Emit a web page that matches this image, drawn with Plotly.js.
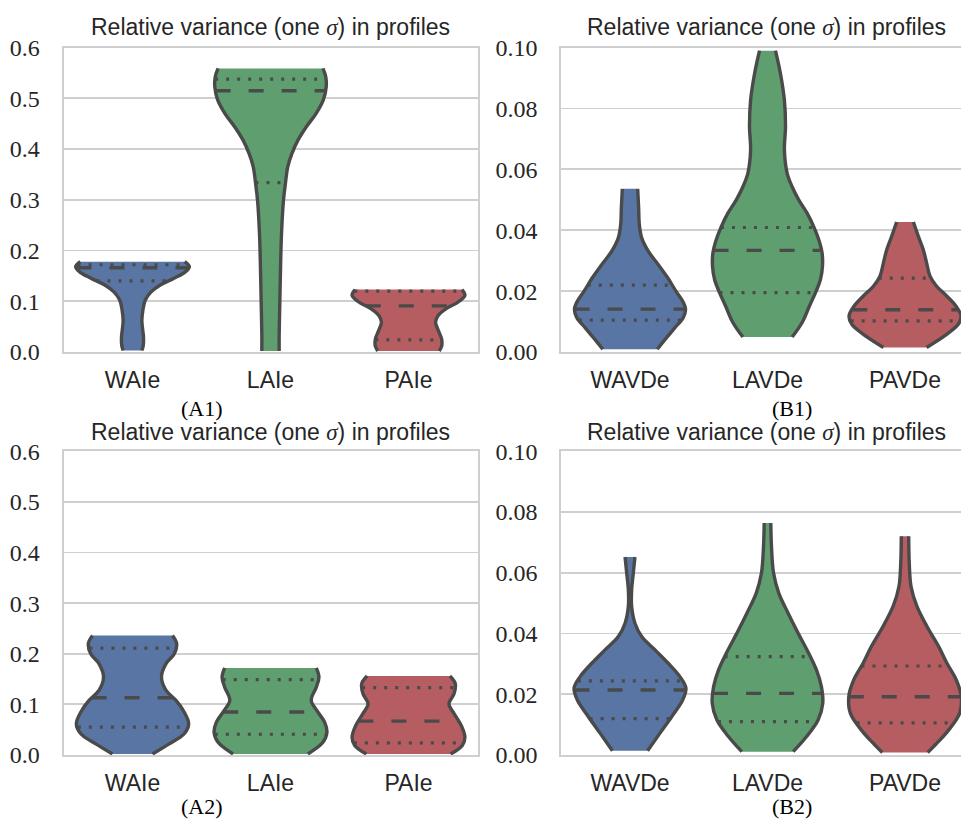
<!DOCTYPE html>
<html><head><meta charset="utf-8">
<script src="https://cdn.plot.ly/plotly-3.0.1.min.js"></script>
<style>html,body{margin:0;padding:0;background:#fff}#chart{width:961px;height:821px}</style>
</head><body><div id="chart"></div>
<script>
// ---------------- data ----------------
const catsA = ['WAIe', 'LAIe', 'PAIe'];
const catsB = ['WAVDe', 'LAVDe', 'PAVDe'];
const tickValsA = [0, 0.1, 0.2, 0.3, 0.4, 0.5, 0.6];
const tickTextA = ['0.0', '0.1', '0.2', '0.3', '0.4', '0.5', '0.6'];
const tickValsB = [0, 0.02, 0.04, 0.06, 0.08, 0.10];
const tickTextB = ['0.00', '0.02', '0.04', '0.06', '0.08', '0.10'];
const panelLabels = ['(A1)', '(B1)', '(A2)', '(B2)'];
const titleText = 'Relative variance (one <span style="font-family:Liberation Serif"><i>σ</i></span>) in profiles';

// violin density profiles: value level and half-width (in category units)
const A1_WAIe_y = [0.003, 0.013, 0.029, 0.046, 0.062, 0.082, 0.102, 0.118, 0.132, 0.145, 0.158, 0.168, 0.178];
const A1_WAIe_w = [0.068, 0.078, 0.080, 0.073, 0.068, 0.075, 0.092, 0.133, 0.201, 0.298, 0.383, 0.412, 0.378];
const A1_LAIe_y = [0.002, 0.036, 0.102, 0.168, 0.234, 0.299, 0.332, 0.365, 0.391, 0.418, 0.444, 0.470, 0.497, 0.523, 0.543, 0.559];
const A1_LAIe_w = [0.063, 0.063, 0.068, 0.073, 0.080, 0.094, 0.108, 0.125, 0.155, 0.200, 0.260, 0.330, 0.383, 0.404, 0.400, 0.380];
const A1_PAIe_y = [0.002, 0.013, 0.026, 0.043, 0.059, 0.072, 0.086, 0.099, 0.112, 0.123];
const A1_PAIe_w = [0.223, 0.242, 0.240, 0.215, 0.196, 0.215, 0.276, 0.363, 0.409, 0.387];

const B1_WAVDe_y = [0.0009, 0.0047, 0.0080, 0.0113, 0.0140, 0.0167, 0.0200, 0.0244, 0.0287, 0.0331, 0.0375, 0.0418, 0.0473, 0.0536];
const B1_WAVDe_w = [0.198, 0.266, 0.327, 0.387, 0.404, 0.383, 0.334, 0.274, 0.206, 0.133, 0.085, 0.068, 0.063, 0.056];
const B1_LAVDe_y = [0.0049, 0.0097, 0.0151, 0.0195, 0.0238, 0.0282, 0.0325, 0.0369, 0.0412, 0.0456, 0.0500, 0.0543, 0.0587, 0.0663, 0.0740, 0.0827, 0.0915, 0.0990];
const B1_LAVDe_w = [0.179, 0.252, 0.305, 0.349, 0.385, 0.400, 0.397, 0.373, 0.336, 0.288, 0.227, 0.179, 0.143, 0.123, 0.131, 0.123, 0.094, 0.058];
const B1_PAVDe_y = [0.0015, 0.0058, 0.0091, 0.0118, 0.0151, 0.0184, 0.0216, 0.0249, 0.0293, 0.0336, 0.0380, 0.0427];
const B1_PAVDe_w = [0.157, 0.303, 0.387, 0.407, 0.370, 0.303, 0.230, 0.182, 0.157, 0.133, 0.097, 0.061];

const A2_WAIe_y = [0.002, 0.022, 0.042, 0.062, 0.088, 0.108, 0.128, 0.154, 0.180, 0.200, 0.220, 0.236];
const A2_WAIe_w = [0.145, 0.266, 0.375, 0.407, 0.368, 0.315, 0.242, 0.210, 0.242, 0.303, 0.320, 0.290];
const A2_LAIe_y = [0.002, 0.025, 0.045, 0.065, 0.088, 0.108, 0.134, 0.154, 0.172];
const A2_LAIe_w = [0.271, 0.380, 0.409, 0.392, 0.335, 0.295, 0.332, 0.351, 0.332];
const A2_PAIe_y = [0.002, 0.019, 0.035, 0.058, 0.082, 0.101, 0.121, 0.141, 0.156];
const A2_PAIe_w = [0.305, 0.390, 0.409, 0.383, 0.330, 0.293, 0.330, 0.339, 0.300];

const B2_WAVDe_y = [0.0014, 0.0072, 0.0126, 0.0181, 0.0220, 0.0258, 0.0302, 0.0346, 0.0390, 0.0434, 0.0489, 0.0544, 0.0599, 0.0652];
const B2_WAVDe_w = [0.128, 0.218, 0.303, 0.383, 0.407, 0.363, 0.278, 0.182, 0.085, 0.036, 0.012, 0.012, 0.024, 0.036];
const B2_LAVDe_y = [0.0011, 0.0060, 0.0115, 0.0170, 0.0225, 0.0280, 0.0335, 0.0401, 0.0467, 0.0533, 0.0599, 0.0687, 0.0764];
const B2_LAVDe_w = [0.187, 0.283, 0.368, 0.402, 0.392, 0.356, 0.300, 0.223, 0.150, 0.082, 0.044, 0.029, 0.024];
const B2_PAVDe_y = [0.0008, 0.0039, 0.0082, 0.0137, 0.0192, 0.0247, 0.0302, 0.0357, 0.0423, 0.0489, 0.0555, 0.0632, 0.0720];
const B2_PAVDe_w = [0.165, 0.232, 0.317, 0.397, 0.409, 0.373, 0.305, 0.245, 0.160, 0.087, 0.044, 0.031, 0.027];

// quartiles [q1, median, q3] per category
const A1_quart = [[0.140, 0.166, 0.172], [0.334, 0.515, 0.538], [0.024, 0.091, 0.120]];
const B1_quart = [[0.0105, 0.0141, 0.0220], [0.0195, 0.0334, 0.0409], [0.0102, 0.0139, 0.0243]];
const A2_quart = [[0.055, 0.113, 0.211], [0.041, 0.085, 0.149], [0.024, 0.067, 0.133]];
const B2_quart = [[0.0120, 0.0214, 0.0244], [0.0110, 0.0203, 0.0324], [0.0106, 0.0192, 0.0293]];

const colors = ['#5975a4', '#5f9e6e', '#b55d60'];
const edge = '#4a4a4a';

// ---------------- build ----------------
function interp(ys, ws, v) {
  if (v <= ys[0]) return ws[0];
  for (let i = 1; i < ys.length; i++) {
    if (v <= ys[i]) { const t = (v - ys[i - 1]) / (ys[i] - ys[i - 1]); return ws[i - 1] + t * (ws[i] - ws[i - 1]); }
  }
  return ws[ws.length - 1];
}
const traces = [];
function addViolin(c, ys, ws, q, color, xa, ya) {
  const left = ys.map((y, i) => c - ws[i]);
  const right = ys.map((y, i) => c + ws[i]);
  const base = {mode: 'lines', xaxis: xa, yaxis: ya, hoverinfo: 'skip', showlegend: false};
  traces.push(Object.assign({}, base, {x: left, y: ys, line: {width: 0, shape: 'spline', smoothing: 1}}));
  traces.push(Object.assign({}, base, {x: right, y: ys, fill: 'tonextx', fillcolor: color, line: {width: 0, shape: 'spline', smoothing: 1}}));
  traces.push(Object.assign({}, base, {x: left.concat([null], right), y: ys.concat([null], ys),
    line: {color: edge, width: 3.4, shape: 'spline', smoothing: 1}}));
  const wm = interp(ys, ws, q[1]);
  traces.push(Object.assign({}, base, {x: [c - wm, c + wm], y: [q[1], q[1]], line: {color: edge, width: 3.4, dash: '15px,18px'}}));
  const w1 = interp(ys, ws, q[0]), w3 = interp(ys, ws, q[2]);
  traces.push(Object.assign({}, base, {x: [c - w1, c + w1, null, c - w3, c + w3], y: [q[0], q[0], null, q[2], q[2]],
    line: {color: edge, width: 3.2, dash: '3px,8px'}}));
}
const panels = [
  {xa: 'x', ya: 'y', data: [[A1_WAIe_y, A1_WAIe_w], [A1_LAIe_y, A1_LAIe_w], [A1_PAIe_y, A1_PAIe_w]], q: A1_quart},
  {xa: 'x2', ya: 'y2', data: [[B1_WAVDe_y, B1_WAVDe_w], [B1_LAVDe_y, B1_LAVDe_w], [B1_PAVDe_y, B1_PAVDe_w]], q: B1_quart},
  {xa: 'x3', ya: 'y3', data: [[A2_WAIe_y, A2_WAIe_w], [A2_LAIe_y, A2_LAIe_w], [A2_PAIe_y, A2_PAIe_w]], q: A2_quart},
  {xa: 'x4', ya: 'y4', data: [[B2_WAVDe_y, B2_WAVDe_w], [B2_LAVDe_y, B2_LAVDe_w], [B2_PAVDe_y, B2_PAVDe_w]], q: B2_quart}
];
panels.forEach(p => p.data.forEach((d, i) => addViolin(i, d[0], d[1], p.q[i], colors[i], p.xa, p.ya)));

const W = 961, H = 821;
const gridc = '#cfcfcf';
function xax(dom, range, cats) {
  return {domain: dom, range: range, tickvals: [0, 1, 2], ticktext: cats, showgrid: false, zeroline: false,
    showline: true, mirror: true, linecolor: gridc, linewidth: 2, ticks: '', ticklabelstandoff: 6,
    tickfont: {family: 'Liberation Sans', size: 23, color: '#262626'}, fixedrange: true};
}
function yax(dom, range, tv, tt, mirror, anchor) {
  return {domain: dom, range: range, tickvals: tv, ticktext: tt, showgrid: true, gridcolor: gridc, gridwidth: 1.8,
    zeroline: false, showline: true, mirror: mirror, linecolor: gridc, linewidth: 2, ticks: '', ticklabelstandoff: 17,
    tickfont: {family: 'Liberation Serif', size: 24, color: '#262626'}, fixedrange: true, anchor: anchor};
}
const xdA = [63.5 / W, 477.5 / W], xdB = [561.25 / W, 1];
const ydTop = [(H - 352) / H, (H - 47.6) / H], ydBot = [(H - 755) / H, (H - 451.3) / H];
const rangeA = [-0.5, 2.5], rangeB = [-0.5, (961 - 630) / 137.5];

const annFont = {family: 'Liberation Sans', size: 23, color: '#262626'};
const labFont = {family: 'Liberation Serif', size: 22, color: '#000000'};
const layout = {
  width: W, height: H, margin: {l: 0, r: 0, t: 0, b: 0}, paper_bgcolor: '#fff', plot_bgcolor: '#fff', showlegend: false,
  xaxis: Object.assign(xax(xdA, rangeA, catsA), {anchor: 'y'}),
  yaxis: yax(ydTop, [0, 0.6], tickValsA, tickTextA, true, 'x'),
  xaxis2: Object.assign(xax(xdB, rangeB, catsB), {anchor: 'y2'}),
  yaxis2: yax(ydTop, [0, 0.1], tickValsB, tickTextB, false, 'x2'),
  xaxis3: Object.assign(xax(xdA, rangeA, catsA), {anchor: 'y3'}),
  yaxis3: yax(ydBot, [0, 0.6], tickValsA, tickTextA, true, 'x3'),
  xaxis4: Object.assign(xax(xdB, rangeB, catsB), {anchor: 'y4'}),
  yaxis4: yax(ydBot, [0, 0.1], tickValsB, tickTextB, false, 'x4'),
  annotations: [
    {text: titleText, xref: 'paper', yref: 'paper', x: 270.5 / W, y: (H - 27) / H, xanchor: 'center', yanchor: 'middle', showarrow: false, font: annFont},
    {text: titleText, xref: 'paper', yref: 'paper', x: 766 / W, y: (H - 27) / H, xanchor: 'center', yanchor: 'middle', showarrow: false, font: annFont},
    {text: titleText, xref: 'paper', yref: 'paper', x: 270.5 / W, y: (H - 432) / H, xanchor: 'center', yanchor: 'middle', showarrow: false, font: annFont},
    {text: titleText, xref: 'paper', yref: 'paper', x: 766 / W, y: (H - 432) / H, xanchor: 'center', yanchor: 'middle', showarrow: false, font: annFont},
    {text: panelLabels[0], xref: 'paper', yref: 'paper', x: 202 / W, y: (H - 408) / H, xanchor: 'center', yanchor: 'middle', showarrow: false, font: labFont},
    {text: panelLabels[1], xref: 'paper', yref: 'paper', x: 792 / W, y: (H - 408) / H, xanchor: 'center', yanchor: 'middle', showarrow: false, font: labFont},
    {text: panelLabels[2], xref: 'paper', yref: 'paper', x: 202 / W, y: 0.5 / H, xanchor: 'center', yanchor: 'bottom', showarrow: false, font: labFont},
    {text: panelLabels[3], xref: 'paper', yref: 'paper', x: 792 / W, y: 0.5 / H, xanchor: 'center', yanchor: 'bottom', showarrow: false, font: labFont}
  ]
};
Plotly.newPlot('chart', traces, layout, {displayModeBar: false, staticPlot: true});
</script></body></html>
